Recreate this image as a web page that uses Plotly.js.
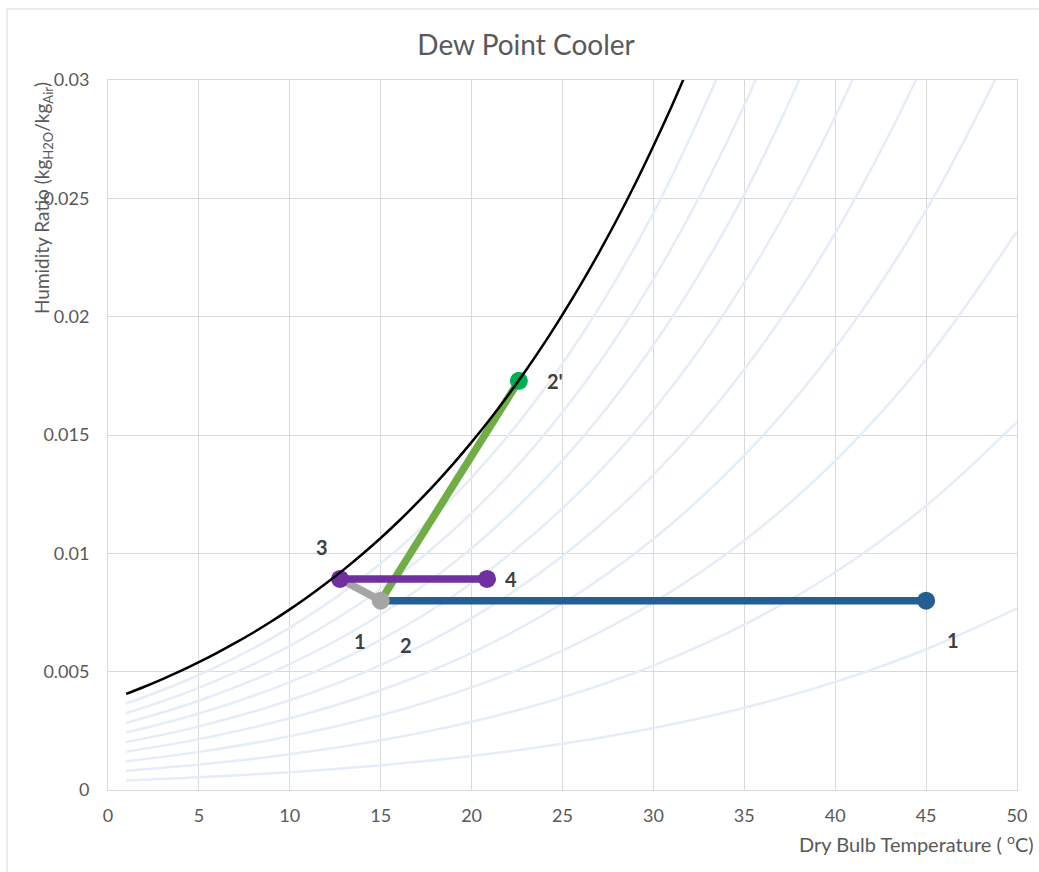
<!DOCTYPE html>
<html>
<head>
<meta charset="utf-8">
<script src="https://cdn.plot.ly/plotly-3.0.1.min.js"></script>
<style>html,body{margin:0;padding:0;background:#fff;}#chart{width:1039px;height:872px;}</style>
</head>
<body>
<div id="chart"></div>
<script>
// Saturation curve (100% RH)
const satT = [1,2,3,4,5,6,7,8,9,10,11,12,13,14,15,16,17,18,19,20,21,22,23,24,25,26,27,28,29,30,31,32];
const satW = [0.00406,0.004364,0.004689,0.005034,0.005403,0.005796,0.006213,0.006657,0.007129,0.007632,0.008165,0.008732,0.009334,0.009973,0.01065,0.011367,0.012129,0.012936,0.013791,0.014699,0.015655,0.01667,0.017744,0.01888,0.020087,0.021352,0.022696,0.024115,0.025616,0.027211,0.028882,0.030651];

// Relative humidity background curves
const rhT = [1,5,10,15,20,25,30,35,40,45,50];
const rh90 = [0.003652,0.004859,0.00686,0.009569,0.013198,0.01802,0.024383,0.032736];
const rh80 = [0.003244,0.004315,0.006091,0.008491,0.011704,0.015966,0.02158,0.02893,0.038513];
const rh70 = [0.002836,0.003772,0.005323,0.007417,0.010217,0.013926,0.018801,0.025167,0.03344];
const rh60 = [0.00243,0.003231,0.004557,0.006346,0.008737,0.011898,0.016046,0.021448,0.028445,0.03747];
const rh50 = [0.002023,0.00269,0.003793,0.00528,0.007264,0.009884,0.013314,0.017771,0.023525,0.030915,0.040374];
const rh40 = [0.001618,0.00215,0.003031,0.004217,0.005797,0.007882,0.010606,0.014136,0.018679,0.024489,0.031884];
const rh30 = [0.001212,0.001611,0.00227,0.003157,0.004338,0.005893,0.007921,0.010542,0.013904,0.018187,0.023611];
const rh20 = [0.000808,0.001073,0.001512,0.002101,0.002885,0.003916,0.005258,0.006989,0.009201,0.012008,0.015544];
const rh10 = [0.000404,0.000536,0.000755,0.001049,0.001439,0.001952,0.002618,0.003475,0.004567,0.005947,0.007676];

// Process points
const procT = {p1: 45, p2: 15, p2p: 22.6, p3: 12.76, p4: 20.85};
const procW = {p1: 0.008, p2: 0.008, p2p: 0.01729, p3: 0.00892, p4: 0.00892};

const labelText = ["1", "2", "3", "4", "2'", "1"];

const FONT = 'Lato, "Open Sans", sans-serif';
const rhCurves = [rh90, rh80, rh70, rh60, rh50, rh40, rh30, rh20, rh10];
const traces = [];
rhCurves.forEach(c => {
  traces.push({x: rhT.slice(0, c.length), y: c, mode: 'lines', line: {color: '#e4edf8', width: 2.5, shape: 'spline'}, hoverinfo: 'skip'});
});

const LW = 7.5, MS = 18;
function mk(color) {
  return {color: color, size: MS, opacity: 1, line: {width: 0}};
}
// blue 1 -> 2
traces.push({x: [procT.p2, procT.p1], y: [procW.p2, procW.p1], mode: 'lines',
  line: {color: '#255e91', width: LW}});
traces.push({x: [procT.p1], y: [procW.p1], mode: 'markers', marker: mk('#255e91')});
// gray 2 -> 3
traces.push({x: [procT.p2, procT.p3], y: [procW.p2, procW.p3], mode: 'lines',
  line: {color: '#a5a5a5', width: LW}});
// green 2 -> 2'
traces.push({x: [procT.p2, procT.p2p], y: [procW.p2, procW.p2p], mode: 'lines',
  line: {color: '#70ad47', width: LW}});
traces.push({x: [procT.p2p], y: [procW.p2p], mode: 'markers', marker: mk('#00b050')});
// gray marker at 2
traces.push({x: [procT.p2], y: [procW.p2], mode: 'markers', marker: mk('#a5a5a5')});
// purple 3 -> 4
traces.push({x: [procT.p3, procT.p4], y: [procW.p3, procW.p4], mode: 'lines+markers',
  line: {color: '#7030a0', width: LW}, marker: mk('#7030a0')});
// saturation
traces.push({x: satT, y: satW, mode: 'lines', line: {color: '#000000', width: 2.5, shape: 'spline'}});

const lblFont = {family: FONT, size: 20, color: '#404040'};
function lbl(text, x, y, dx, dy) {
  return {text: '<b>' + text + '</b>', x: x, y: y, xref: 'x', yref: 'y', showarrow: false,
    xshift: dx, yshift: dy, font: lblFont};
}

const annotations = [
  lbl(labelText[0], procT.p2, procW.p2, -21, -40),
  lbl(labelText[1], procT.p2, procW.p2, 25, -44),
  lbl(labelText[2], procT.p3, procW.p3, -18, 32),
  lbl(labelText[3], procT.p4, procW.p4, 24, 0),
  lbl(labelText[4], procT.p2p, procW.p2p, 36, 0),
  lbl(labelText[5], procT.p1, procW.p1, 27, -39),
  {text: 'Humidity Ratio (kg<sub><span style="font-size:13px">H2O</span></sub>/kg<sub><span style="font-size:13px">Air</span></sub>)', textangle: -90, xref: 'paper', yref: 'paper',
    x: -0.0715, y: 1.0, xanchor: 'center', yanchor: 'top', showarrow: false,
    font: {family: FONT, size: 19, color: '#595959'}},
  {text: 'Dry Bulb Temperature ( <sup>o</sup>C)', xref: 'paper', yref: 'paper',
    x: 1.021, y: -0.0746, xanchor: 'right', yanchor: 'middle', showarrow: false,
    font: {family: FONT, size: 20, color: '#595959'}}
];

const layout = {
  width: 1039, height: 872,
  margin: {l: 108, r: 22, t: 80, b: 82},
  paper_bgcolor: '#ffffff', plot_bgcolor: '#ffffff',
  showlegend: false,
  font: {family: FONT, color: '#595959'},
  title: {text: 'Dew Point Cooler', x: 0.5063, xanchor: 'center', y: 0.948, yanchor: 'middle',
    font: {family: FONT, size: 28, color: '#595959'}},
  xaxis: {range: [0, 50], dtick: 5, tick0: 0, showgrid: true, gridcolor: '#d9d9d9', gridwidth: 1,
    showline: true, mirror: true, linecolor: '#d9d9d9', linewidth: 1, zeroline: false,
    ticks: 'outside', ticklen: 9, tickcolor: 'rgba(0,0,0,0)',
    tickfont: {size: 18, color: '#595959'}},
  yaxis: {range: [0, 0.03], dtick: 0.005, tick0: 0, showgrid: true, gridcolor: '#d9d9d9', gridwidth: 1,
    showline: true, mirror: true, linecolor: '#d9d9d9', linewidth: 1, zeroline: false,
    ticks: 'outside', ticklen: 14, tickcolor: 'rgba(0,0,0,0)',
    tickfont: {size: 18, color: '#595959'}},
  annotations: annotations,
  shapes: [{type: 'rect', xref: 'paper', yref: 'paper', x0: -0.1111, y0: -0.15, x1: 1.05, y1: 1.1,
    line: {color: '#d9d9d9', width: 1}, fillcolor: 'rgba(0,0,0,0)', layer: 'below'}]
};

Plotly.newPlot('chart', traces, layout, {displayModeBar: false, staticPlot: true});
</script>
</body>
</html>
